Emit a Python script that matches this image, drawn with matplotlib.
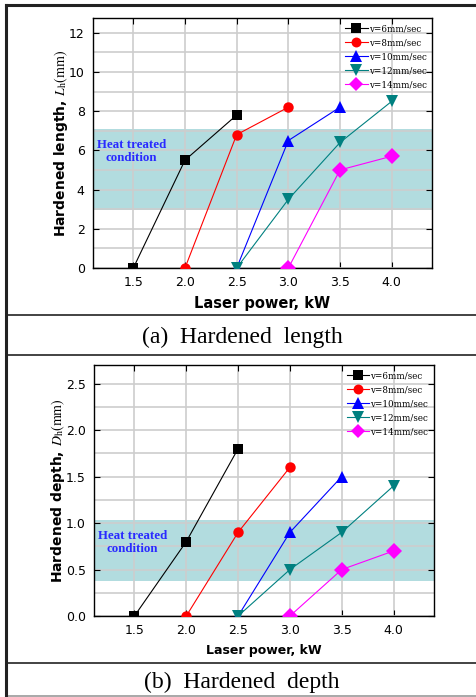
import matplotlib
matplotlib.use('Agg')
import matplotlib.pyplot as plt
from matplotlib.lines import Line2D
import matplotlib.ticker as ticker

plt.rcParams['mathtext.fontset'] = 'stix'

# ---------------------------------------------------------------------------
# Data
# ---------------------------------------------------------------------------
LABELS  = ['v=6mm/sec', 'v=8mm/sec', 'v=10mm/sec', 'v=12mm/sec', 'v=14mm/sec']
COLORS  = ['#000000', '#ff0000', '#0000ff', '#008080', '#ff00ff']
MARKERS = ['s', 'o', '^', 'v', 'D']
MSIZES  = [7, 7.5, 9, 9, 8]

POWER = [
    [1.5, 2.0, 2.5],
    [2.0, 2.5, 3.0],
    [2.5, 3.0, 3.5],
    [2.5, 3.0, 3.5, 4.0],
    [3.0, 3.5, 4.0],
]
LENGTH = [
    [0.0, 5.5, 7.8],
    [0.0, 6.8, 8.2],
    [0.0, 6.5, 8.2],
    [0.0, 3.5, 6.4, 8.5],
    [0.0, 5.0, 5.7],
]
DEPTH = [
    [0.0, 0.8, 1.8],
    [0.0, 0.9, 1.6],
    [0.0, 0.9, 1.5],
    [0.0, 0.5, 0.9, 1.4],
    [0.0, 0.5, 0.7],
]

LENGTH_BAND = (2.95, 7.1)
DEPTH_BAND  = (0.38, 1.03)

X_TICKS = [1.5, 2.0, 2.5, 3.0, 3.5, 4.0]

BAND_COLOR = '#b2dcdf'
GRID_COLOR = '#cdcdcd'


def draw_panel(ax, ys, band, ylim, major, minor, yfmt, ylabel, xlabel_size, text_y):
    ax.axhspan(band[0], band[1], color=BAND_COLOR, zorder=0.5, lw=0)
    for xs, yv, c, m, ms in zip(POWER, ys, COLORS, MARKERS, MSIZES):
        ax.plot(xs, yv, color=c, lw=0.8, marker=m, markersize=ms,
                markeredgewidth=0, zorder=3)

    ax.set_xlim(1.11, 4.39)
    ax.set_ylim(*ylim)
    ax.set_xticks(X_TICKS)
    ax.set_xticklabels([f'{t:.1f}' for t in X_TICKS])
    ax.yaxis.set_major_locator(ticker.MultipleLocator(major))
    ax.yaxis.set_minor_locator(ticker.MultipleLocator(minor))
    ax.yaxis.set_major_formatter(ticker.FormatStrFormatter(yfmt))

    ax.grid(True, axis='x', which='major', color=GRID_COLOR, lw=1.2, zorder=1)
    ax.grid(True, axis='y', which='both', color=GRID_COLOR, lw=1.2, zorder=1)
    ax.set_axisbelow(True)

    ax.tick_params(which='major', direction='in', length=4, width=0.8,
                   top=True, right=True, labelsize=9, pad=6)
    ax.tick_params(which='minor', direction='in', length=0, top=True, right=True)
    for s in ax.spines.values():
        s.set_linewidth(1.0)

    ax.set_xlabel('Laser power, kW', fontsize=xlabel_size, fontweight='bold', labelpad=5)
    ax.set_ylabel(ylabel, fontsize=10, fontweight='bold', labelpad=-1)

    ax.text(1.48, text_y, 'Heat treated\ncondition', color='#2a2aff',
            fontsize=9.3, fontweight='bold', family='Liberation Serif',
            ha='center', va='center', linespacing=1.15, zorder=2)

    handles = [Line2D([], [], color=c, marker=m, lw=0.8, markeredgewidth=0,
                      markersize=ms * 0.95)
               for c, m, ms in zip(COLORS, MARKERS, MSIZES)]
    ax.legend(handles, LABELS, loc='upper left', bbox_to_anchor=(0.725, 1.0),
              frameon=False, prop={'family': 'DejaVu Serif', 'size': 6.3},
              handlelength=2.6, handletextpad=0.1, labelspacing=0.58,
              borderaxespad=0.3)


fig = plt.figure(figsize=(4.76, 6.97), dpi=100)

ax1 = fig.add_axes([0.1954, 0.6155, 0.7122, 0.3587])
draw_panel(ax1, LENGTH, LENGTH_BAND, (0, 12.75), 2, 1, '%d',
           r'Hardened length, $\mathit{L}_{\mathrm{h}}\mathrm{(mm)}$', 10.5, 5.95)

ax2 = fig.add_axes([0.1975, 0.1162, 0.7143, 0.3601])
draw_panel(ax2, DEPTH, DEPTH_BAND, (0, 2.7), 0.5, 0.25, '%.1f',
           r'Hardened depth, $\mathit{D}_{\mathrm{h}}\mathrm{(mm)}$', 9, 0.79)

# table frame lines
H = 697.0
W = 476.0
def hline(y_px, lw, color='#222222'):
    fig.add_artist(Line2D([6 / W, 1.0], [1 - y_px / H] * 2, color=color, lw=lw,
                          transform=fig.transFigure))

hline(5, 2.2)
hline(315, 1.2)
hline(355, 1.2)
hline(663, 1.2)
hline(696, 1.2, color='#999999')
fig.add_artist(Line2D([6 / W, 6 / W], [1 - 5 / H, 0], color='#222222', lw=2.2,
                      transform=fig.transFigure))

fig.text(242 / W, 1 - 337 / H, '(a)  Hardened  length', ha='center', va='center',
         family='Liberation Serif', fontsize=17)
fig.text(242 / W, 1 - 682 / H, '(b)  Hardened  depth', ha='center', va='center',
         family='Liberation Serif', fontsize=17)

fig.savefig('out.png', dpi=100)
